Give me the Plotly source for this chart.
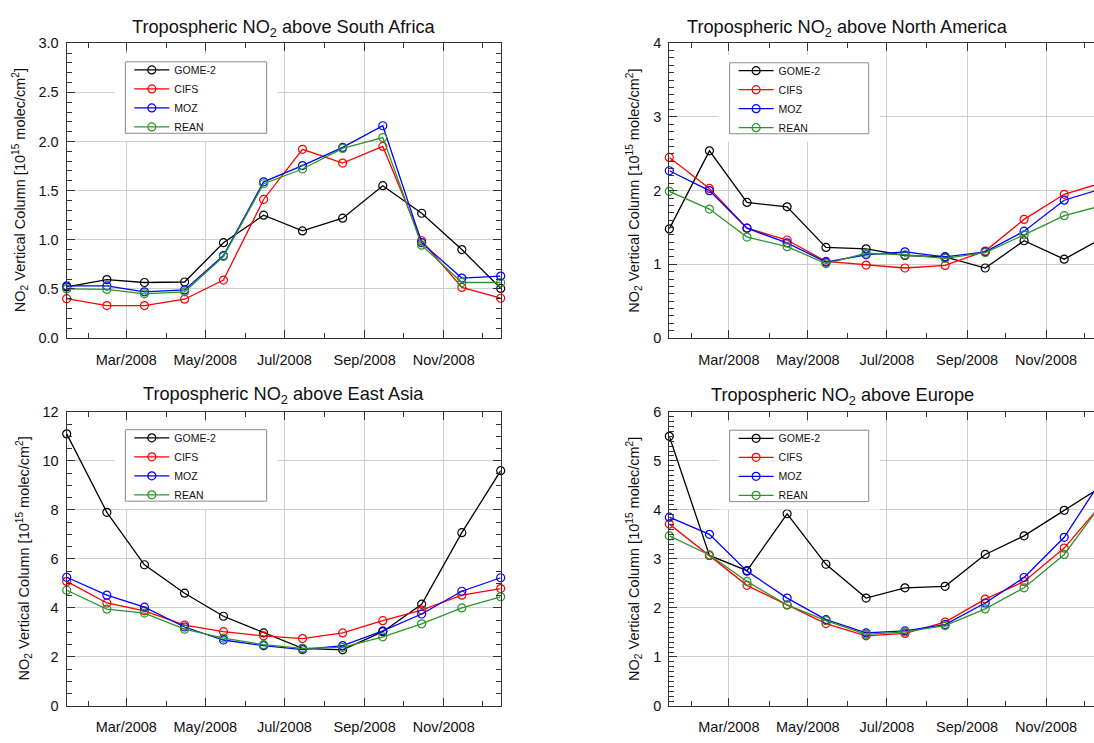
import plotly.graph_objects as go

# ---------------- data ----------------
months = ["2008-01-15", "2008-02-15", "2008-03-15", "2008-04-15", "2008-05-15", "2008-06-15",
          "2008-07-15", "2008-08-15", "2008-09-15", "2008-10-15", "2008-11-15", "2008-12-15"]
series_names = ["GOME-2", "CIFS", "MOZ", "REAN"]
series_colors = ["#000000", "#ff0000", "#0000ff", "#2a952a"]

# South Africa
sa_gome2 = [0.52, 0.595, 0.565, 0.57, 0.97, 1.25, 1.09, 1.22, 1.55, 1.27, 0.90, 0.505]
sa_cifs = [0.40, 0.33, 0.33, 0.395, 0.59, 1.41, 1.92, 1.78, 1.95, 0.99, 0.515, 0.405]
sa_moz = [0.53, 0.53, 0.47, 0.49, 0.84, 1.59, 1.755, 1.94, 2.16, 0.97, 0.61, 0.63]
sa_rean = [0.50, 0.495, 0.45, 0.47, 0.83, 1.57, 1.72, 1.93, 2.04, 0.945, 0.565, 0.565]

# North America
na_gome2 = [1.48, 2.54, 1.84, 1.78, 1.23, 1.21, 1.12, 1.10, 0.95, 1.32, 1.07, 1.36]
na_cifs = [2.45, 2.03, 1.49, 1.33, 1.04, 0.99, 0.95, 0.985, 1.18, 1.61, 1.95, 2.11]
na_moz = [2.27, 2.00, 1.49, 1.29, 1.03, 1.13, 1.17, 1.10, 1.17, 1.45, 1.87, 2.03]
na_rean = [1.99, 1.75, 1.37, 1.24, 1.01, 1.15, 1.13, 1.08, 1.16, 1.40, 1.66, 1.80]

# East Asia
ea_gome2 = [11.1, 7.9, 5.76, 4.6, 3.66, 2.98, 2.35, 2.29, 3.03, 4.15, 7.07, 9.6]
ea_cifs = [5.08, 4.2, 3.88, 3.30, 3.03, 2.86, 2.75, 2.98, 3.48, 3.91, 4.52, 4.79]
ea_moz = [5.25, 4.52, 4.03, 3.22, 2.69, 2.46, 2.30, 2.46, 3.06, 3.75, 4.68, 5.23]
ea_rean = [4.72, 3.95, 3.79, 3.13, 2.77, 2.50, 2.35, 2.39, 2.82, 3.35, 4.00, 4.45]

# Europe
eu_gome2 = [5.5, 3.07, 2.76, 3.92, 2.89, 2.20, 2.41, 2.44, 3.09, 3.47, 3.99, 4.49]
eu_cifs = [3.71, 3.07, 2.46, 2.06, 1.68, 1.43, 1.48, 1.71, 2.18, 2.54, 3.22, 4.15]
eu_moz = [3.85, 3.50, 2.75, 2.20, 1.76, 1.49, 1.53, 1.66, 2.10, 2.62, 3.44, 4.66]
eu_rean = [3.47, 3.08, 2.54, 2.06, 1.74, 1.46, 1.51, 1.64, 1.98, 2.41, 3.09, 4.16]

region_names = ["South Africa", "North America", "East Asia", "Europe"]

# ---------------- layout helpers ----------------
W, H = 1094, 743
FONT = "Liberation Sans, Arial, Helvetica, sans-serif"


def fx(p):
    return p / W


def fy(p):
    return 1 - p / H


panels = [
    dict(data=[sa_gome2, sa_cifs, sa_moz, sa_rean], region=region_names[0],
         xpx=(66.7, 500.7), ypx=(36.0, 337.3), xend="2008-12-15",
         yrange=[0, 3], ydtick=0.5, yminor=0.1, yfmt=".1f",
         tpos=(283.7, 21), ytx=19.5, box=(125.3, 266.7, 55.0, 128.0), cut=False),
    dict(data=[na_gome2, na_cifs, na_moz, na_rean], region=region_names[1],
         xpx=(669.3, 1094.0), ypx=(36.0, 337.3), xend="2008-12-08",
         yrange=[0, 4], ydtick=1, yminor=0.1, yfmt="d",
         tpos=(847.5, 21), ytx=634.0, box=(729.6, 868.7, 56.0, 128.5), cut=True),
    dict(data=[ea_gome2, ea_cifs, ea_moz, ea_rean], region=region_names[2],
         xpx=(66.7, 500.7), ypx=(412.7, 713.3), xend="2008-12-15",
         yrange=[0, 12], ydtick=2, yminor=0.5, yfmt="d",
         tpos=(283.9, 396.5), ytx=23.5, box=(125.3, 266.7, 431.0, 504.0), cut=False),
    dict(data=[eu_gome2, eu_cifs, eu_moz, eu_rean], region=region_names[3],
         xpx=(669.3, 1094.0), ypx=(412.7, 713.3), xend="2008-12-08",
         yrange=[0, 6], ydtick=1, yminor=0.1, yfmt="d",
         tpos=(842.0, 396.7), ytx=634.0, box=(729.6, 868.7, 431.5, 504.5), cut=True),
]

fig = go.Figure()
layout = dict(
    width=W, height=H, autosize=False,
    margin=dict(l=0, r=0, t=0, b=0, pad=0),
    paper_bgcolor="white", plot_bgcolor="white",
    font=dict(family=FONT, size=14.5, color="#111111"),
    showlegend=True,
)
shapes = []
annotations = []

for i, p in enumerate(panels, start=1):
    sfx = "" if i == 1 else str(i)
    xa, ya = "x" + sfx, "y" + sfx
    leg = "legend" + sfx
    for name, color, vals in zip(series_names, series_colors, p["data"]):
        fig.add_trace(go.Scatter(
            x=months, y=vals, name=name, mode="lines+markers",
            line=dict(color=color, width=1.3),
            marker=dict(symbol="circle-open", size=8, color=color,
                        line=dict(width=1.2, color=color)),
            xaxis=xa, yaxis=ya, legend=leg, cliponaxis=False,
            hoverinfo="x+y+name",
        ))
    x0, x1 = p["xpx"]
    y0, y1 = p["ypx"]
    layout["xaxis" + sfx] = dict(
        domain=[fx(x0), fx(x1)], anchor=ya, type="date",
        range=["2008-01-15", p["xend"]],
        tick0="2008-03-01", dtick="M2", tickformat="%b/%Y",
        ticks="inside", ticklen=8, tickwidth=1, tickcolor="#333333",
        showline=True, linecolor="#333333", linewidth=1.3, mirror="ticks",
        showgrid=True, gridcolor="#cfcfcf", gridwidth=1.2,
        zeroline=False, ticklabelstandoff=8,
        tickfont=dict(family=FONT, size=14.5, color="#111111"),
        minor=dict(tick0="2008-02-01", dtick="M1", ticks="inside", ticklen=5,
                   tickwidth=1, tickcolor="#333333", showgrid=False),
    )
    layout["yaxis" + sfx] = dict(
        domain=[fy(y1), fy(y0)], anchor=xa, range=p["yrange"],
        tick0=0, dtick=p["ydtick"], tickformat=p["yfmt"],
        ticks="inside", ticklen=8, tickwidth=1, tickcolor="#333333",
        showline=True, linecolor="#333333", linewidth=1.3,
        mirror=False if p["cut"] else "ticks",
        showgrid=True, gridcolor="#cfcfcf", gridwidth=1.2,
        zeroline=False, ticklabelstandoff=4,
        tickfont=dict(family=FONT, size=14.5, color="#111111"),
        minor=dict(dtick=p["yminor"], ticks="inside", ticklen=5, tickwidth=1,
                   tickcolor="#333333", showgrid=False),
    )
    # legend box: white padded backdrop + thin grey frame
    bx0, bx1, by0, by1 = p["box"]
    shapes.append(dict(type="rect", xref="paper", yref="paper",
                       x0=fx(bx0 - 11), x1=fx(bx1 + 11), y0=fy(by1 + 8), y1=fy(by0 - 8),
                       fillcolor="white", line=dict(width=0), layer="above"))
    shapes.append(dict(type="rect", xref="paper", yref="paper",
                       x0=fx(bx0), x1=fx(bx1), y0=fy(by1), y1=fy(by0),
                       fillcolor="rgba(0,0,0,0)", line=dict(width=1, color="#8a8a8a"),
                       layer="above"))
    yc = (by0 + by1) / 2
    layout[leg] = dict(
        x=fx(bx0 + 4), y=fy(yc - 43), xanchor="left", yanchor="top",
        xref="paper", yref="paper",
        bgcolor="rgba(0,0,0,0)", borderwidth=0, itemwidth=35,
        font=dict(family=FONT, size=10.5, color="#111111"),
        orientation="v", itemclick=False, itemdoubleclick=False,
    )
    # panel title
    annotations.append(dict(
        text="Tropospheric NO<sub>2</sub> above " + p["region"],
        x=fx(p["tpos"][0]), y=fy(p["tpos"][1]), xref="paper", yref="paper",
        xanchor="center", yanchor="middle", showarrow=False,
        font=dict(family=FONT, size=18.2, color="#111111"),
    ))
    # y-axis title
    annotations.append(dict(
        text="NO<sub>2</sub> Vertical Column [10<sup>15</sup> molec/cm<sup>2</sup>]",
        x=fx(p["ytx"]), y=fy((y0 + y1) / 2), xref="paper", yref="paper",
        xanchor="center", yanchor="middle", textangle=-90, showarrow=False,
        font=dict(family=FONT, size=14.5, color="#111111"),
    ))

layout["shapes"] = shapes
layout["annotations"] = annotations
fig.update_layout(**layout)

page_fix = """
var de = document.documentElement, b = document.body;
de.style.margin = '0'; de.style.padding = '0'; de.style.overflow = 'hidden';
de.style.height = '743px';
b.style.margin = '0'; b.style.padding = '0'; b.style.overflow = 'hidden';
b.style.height = '743px';
var g = document.querySelector('.plotly-graph-div');
if (g) { g.style.position = 'fixed'; g.style.top = '0px'; g.style.left = '0px'; }
window.scrollTo(0, 0);
"""

fig.write_html(
    "out.html",
    config={"displayModeBar": False, "responsive": False},
    post_script=page_fix,
)
